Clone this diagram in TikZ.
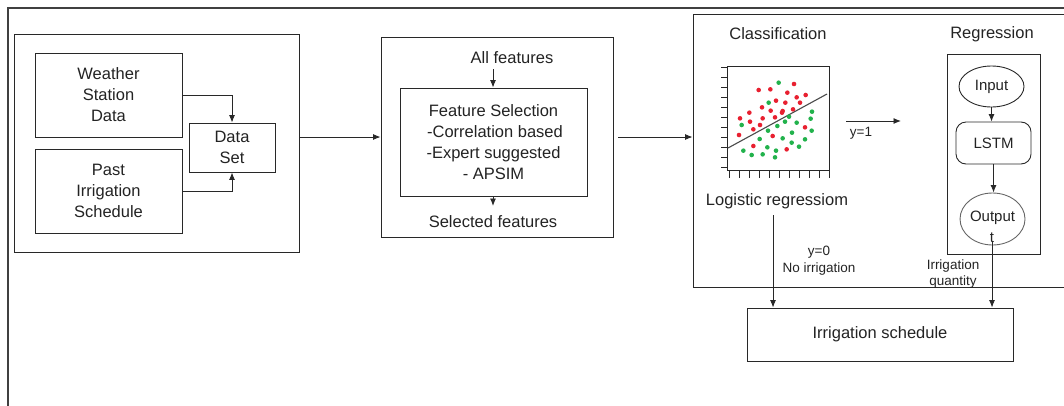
\documentclass[tikz,border=0pt]{standalone}
\usepackage{fontspec}
\setmainfont{Liberation Sans}
\usetikzlibrary{arrows.meta,shapes.geometric,calc}
\definecolor{dred}{RGB}{232,32,48}
\definecolor{dgreen}{RGB}{34,178,76}
\definecolor{lc}{RGB}{40,40,40}
\definecolor{tc}{RGB}{35,35,35}
\begin{document}
\begin{tikzpicture}[x=1pt,y=-1pt,
  box/.style={draw=lc,line width=0.9pt,inner sep=0pt,align=center,text=tc,font=\fontsize{16.5}{21}\selectfont},
  lbl/.style={inner sep=0pt,align=center,text=tc,font=\fontsize{16.5}{21}\selectfont},
  small/.style={inner sep=0pt,align=center,text=tc,font=\fontsize{13.5}{16.5}\selectfont},
  arr/.style={draw=lc,line width=0.9pt,-{Latex[length=7.5pt,width=6pt]}},
  ln/.style={draw=lc,line width=0.9pt},
  rdot/.style={fill=dred,draw=none},
  gdot/.style={fill=dgreen,draw=none}]
\useasboundingbox (0,0) rectangle (1064,405);
% outer frame
\draw[draw=black!75,line width=2pt] (8,420) -- (8,8) -- (1080,8);
% box 1
\node[box,minimum width=285pt,minimum height=218pt] (box1) at (156.5,143) {};
\node[box,minimum width=147pt,minimum height=84pt] (weather) at (108.5,95) {Weather\\Station\\Data};
\node[box,minimum width=147pt,minimum height=84pt] (past) at (108.5,191) {Past\\Irrigation\\Schedule};
\node[box,minimum width=86pt,minimum height=49pt] (ds) at (232,147.5) {Data\\Set};
\draw[arr] (weather.east) -| (ds.north);
\draw[arr] (past.east) -| (ds.south);
% box 2
\node[box,minimum width=232pt,minimum height=200pt] (box2) at (497,137) {};
\node[box,minimum width=187pt,minimum height=108pt] (fs) at (493.5,142) {Feature Selection\\\hspace*{3pt}-Correlation based\\-Expert suggested\\- APSIM};
\node[lbl] (af) at (512,58) {All features};
\node[lbl] (sf) at (493,222) {Selected features};
\coordinate (afa) at (493,69);
\coordinate (sfa) at (493,206);
\draw[arr] (afa) -- (afa |- fs.north);
\draw[arr] (sfa |- fs.south) -- (sfa);
% box 3
\node[box,minimum width=377pt,minimum height=273pt] (box3) at (881.5,150.5) {};
\draw[arr] (box2.west -| box1.east) -- (box2.west);
\draw[arr,shorten <=5pt] (box2.east) -- (box2.east -| box3.west);
\node[lbl] (cls) at (778,34) {Classification};
\node[lbl] (reg) at (992,34) {Regression};
% plot
\draw[ln,line width=0.8pt] (727,66) rectangle (829,170);
\foreach \yy in {67,77,87,97.5,107.5,117.5,127.5,137.5,147.5,157.5,167.5}
  \draw[ln,line width=0.8pt] (721,\yy) -- (727,\yy);
\foreach \xx in {729,739,749,759,769,779,789,799,809,819,829}
  \draw[ln,line width=0.8pt] (\xx,170) -- (\xx,178);
\draw[draw=black!70,line width=1.1pt] (728,148) -- (827,94);
\begin{scope}[shift={(690,0)}]
\foreach \px/\py in {206/270,241/268,312/252,292/278,320/292,347/285,216/322,258/302,286/308,330/308,178/338,242/332,278/333,309/328,150/355,218/355,255/352,180/365,210/375,190/388,147/405,345/382,248/408,190/438,290/448,276/338}
  \fill[rdot] (\px/3,\py/3) circle (2.3pt);
\foreach \px/\py in {266/248,236/308,366/335,297/350,155/375,362/356,262/378,285/365,320/368,234/392,365/392,278/415,306/398,209/417,345/418,305/428,232/442,327/440,160/452,258/452,185/465,218/463,255/472}
  \fill[gdot] (\px/3,\py/3) circle (2.3pt);
\end{scope}
\node[lbl] (logr) at (777,201) {Logistic regressiom};
% y=1
\coordinate (y1s) at (846,121);
\coordinate (y1e) at (901,121);
\draw[arr] (y1s) -- (y1e);
\node[small] (y1) at (861,133) {y=1};
% regression box
\node[box,minimum width=93pt,minimum height=200pt] (rbox) at (993.5,154) {};
\node[box,ellipse,minimum width=65pt,minimum height=41pt,font=\fontsize{15}{18}\selectfont] (inp) at (991.5,86.5) {Input};
\node[box,rounded corners=10pt,minimum width=75pt,minimum height=42pt,font=\fontsize{15}{18}\selectfont] (lstm) at (993.5,143) {LSTM};
\node[box,ellipse,minimum width=65pt,minimum height=52pt,draw=black!60] (outp) at (992.5,219) {};
\node[lbl,font=\fontsize{15}{18}\selectfont] (outt) at (992.5,218) {Output};
\node[lbl,font=\fontsize{15}{18}\selectfont] (outt2) at (992,238) {t};
\draw[arr] (inp.south) -- (inp.south |- lstm.north);
\draw[arr] (lstm.south) -- (lstm.south |- outp.north);
% schedule
\node[box,minimum width=266pt,minimum height=53pt] (sched) at (880,334.5) {Irrigation schedule};
\coordinate (ls) at (773,215);
\draw[arr] (ls) -- (ls |- sched.north);
\coordinate (os) at (992,242);
\draw[arr] (os) -- (os |- sched.north);
\node[small] (y0) at (819,260.5) {y=0\\No irrigation};
\node[small] (iq) at (953,274) {Irrigation\\quantity};
\end{tikzpicture}
\end{document}
